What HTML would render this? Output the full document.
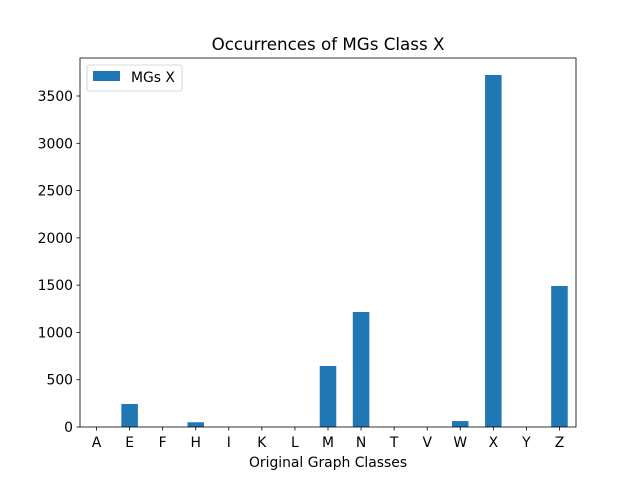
<!DOCTYPE html>
<html><head><meta charset="utf-8"><style>body{margin:0;background:#fff}svg{display:block;font-family:"DejaVu Sans","Liberation Sans",sans-serif}</style></head>
<body>
<svg id="chart" width="640" height="480"></svg>
<script>
const categories=["A","E","F","H","I","K","L","M","N","T","V","W","X","Y","Z"];
const values=[0,243,0,50,0,0,0,645,1216,0,0,63,3722,0,1491];
const yTicks=[0,500,1000,1500,2000,2500,3000,3500];
const L=80,R=576,T=58,B=427;
const NS="http://www.w3.org/2000/svg";
const svg=document.getElementById('chart');
const xs=i=>L+(i+0.5)*(R-L)/categories.length;
const ys=v=>B-v*(331/3500);
function mk(tag,attrs,parent){const e=document.createElementNS(NS,tag);for(const k in attrs)e.setAttribute(k,attrs[k]);(parent||svg).appendChild(e);return e;}
const bw=0.5*(R-L)/categories.length;
values.forEach((v,i)=>{const r=mk('rect',{x:xs(i)-bw/2,y:ys(v),width:bw,height:B-ys(v),fill:'#1f77b4'});

});
const frame=mk('rect',{x:L,y:T,width:R-L,height:B-T,fill:'none',stroke:'#000','stroke-width':0.8});


categories.forEach((c,i)=>{mk('line',{x1:xs(i),x2:xs(i),y1:B,y2:B+3.5,stroke:'#000','stroke-width':0.8});
const t=mk('text',{x:xs(i),y:B+20,'text-anchor':'middle','font-size':'13.9'});t.textContent=c;

});
yTicks.forEach(v=>{mk('line',{x1:L-3.5,x2:L,y1:ys(v),y2:ys(v),stroke:'#000','stroke-width':0.8});
const t=mk('text',{x:L-7,y:ys(v)+5,'text-anchor':'end','font-size':'13.9'});t.textContent=v;

});
const title=mk('text',{x:(L+R)/2,y:50,'text-anchor':'middle','font-size':'16.7'});title.textContent='Occurrences of MGs Class X';


const xt=mk('text',{x:(L+R)/2,y:467,'text-anchor':'middle','font-size':'13.9'});xt.textContent='Original Graph Classes';


const lg=mk('g',{});


mk('rect',{x:87,y:65,width:95,height:26,rx:2,fill:'#fff',stroke:'#ccc','stroke-width':0.8},lg);
mk('rect',{x:93,y:71,width:27,height:10,fill:'#1f77b4'},lg);
const lt=mk('text',{x:131,y:82,'font-size':'13.9'},lg);lt.textContent='MGs X';
</script>
</body></html>
